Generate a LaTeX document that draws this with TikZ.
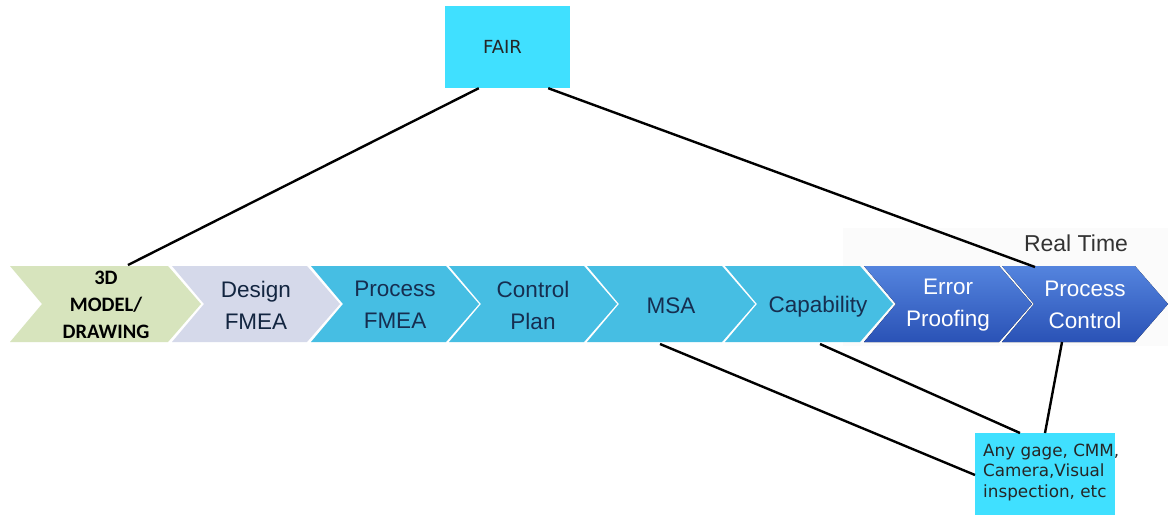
\documentclass[tikz,border=0pt]{standalone}
\usepackage{fontspec}
\setmainfont{Liberation Sans}
\newfontfamily\verd{DejaVu Sans}
\newfontfamily\calib{Carlito}
\usetikzlibrary{calc}
\definecolor{greenchev}{RGB}{215,228,189}
\definecolor{lavchev}{RGB}{213,217,234}
\definecolor{bluechev}{RGB}{70,190,227}
\definecolor{darktop}{RGB}{84,132,222}
\definecolor{darkbot}{RGB}{42,82,182}
\definecolor{navytext}{RGB}{22,46,80}
\definecolor{cyanbox}{RGB}{64,224,255}
\definecolor{faintbg}{RGB}{251,251,251}
\tikzset{
  chevtext/.style={font=\fontsize{22.5}{32}\selectfont, align=center, inner sep=0pt},
  infobox/.style={fill=cyanbox, draw=none, text=black!85},
  link/.style={line width=2.4pt, black}
}
\newcommand{\chev}[3]{% left, right-top, fill options
  \fill[#3] (#1,266) -- (#2,266) -- (#2+33,304) -- (#2,342) -- (#1,342) -- (#1+32,304) -- cycle;
}
\begin{document}
\begin{tikzpicture}[x=1pt,y=-1pt]
\useasboundingbox (0,0) rectangle (1176,515);
\fill[white] (0,0) rectangle (1176,515);
\fill[faintbg] (843,228) rectangle (1168,346);
% chevrons
\chev{10}{168}{greenchev}
\chev{172}{307}{lavchev}
\chev{311}{446}{bluechev}
\chev{449}{584}{bluechev}
\chev{587}{722}{bluechev}
\chev{725}{860}{bluechev}
\chev{864}{999}{top color=darktop,bottom color=darkbot}
\chev{1002}{1135}{top color=darktop,bottom color=darkbot}
% texts
\node[chevtext, font=\calib\bfseries\fontsize{20.5}{27}\selectfont] (t1) at (106,305) {3D\\MODEL/\\DRAWING};
\node[chevtext, text=navytext!80!black] (t2) at (256,305) {Design\\FMEA};
\node[chevtext, text=navytext] (t3) at (395,305) {Process\\FMEA};
\node[chevtext, text=navytext] (t4) at (533,305) {Control\\Plan};
\node[chevtext, text=navytext] (t5) at (671,306) {MSA};
\node[chevtext, text=navytext] (t6) at (818,307) {Capability};
\node[chevtext, text=white] (t7) at (948,305) {Error\\Proofing};
\node[chevtext, text=white] (t8) at (1085,305) {Process\\Control};
\node[font=\fontsize{23}{26}\selectfont, text=black!80, inner sep=0pt] (rt) at (1076,243) {Real Time};
% connection points on chevrons
\coordinate (p1) at (128,265);
\coordinate (p8top) at (1035,267);
\coordinate (p5) at (660,344);
\coordinate (p6) at (820,344);
\coordinate (p8bot) at (1062,342);
% boxes
\node[infobox, minimum width=125pt, minimum height=82pt, inner sep=0pt, font=\verd\fontsize{18}{20}\selectfont] (fair) at (507.5,47) {\hspace*{-10pt}FAIR};
\node[infobox, anchor=north west, minimum width=140pt, minimum height=82pt, inner sep=0pt] (gage) at (975,433) {};
\node[anchor=north west, inner sep=0pt, align=left, text=black!85, font=\verd\fontsize{16.8}{20.5}\selectfont] (gagetext) at (983,443.5) {Any gage, CMM,\\Camera,Visual\\inspection, etc};
% links
\draw[link] ([xshift=34pt]fair.south west) -- (p1);
\draw[link] ([xshift=-22pt]fair.south east) -- (p8top);
\draw[link] (p5) -- ([yshift=-42pt]gage.north west);
\draw[link] (p6) -- ([xshift=45pt]gage.north west);
\draw[link] (p8bot) -- ([xshift=70pt]gage.north west);
\end{tikzpicture}
\end{document}
